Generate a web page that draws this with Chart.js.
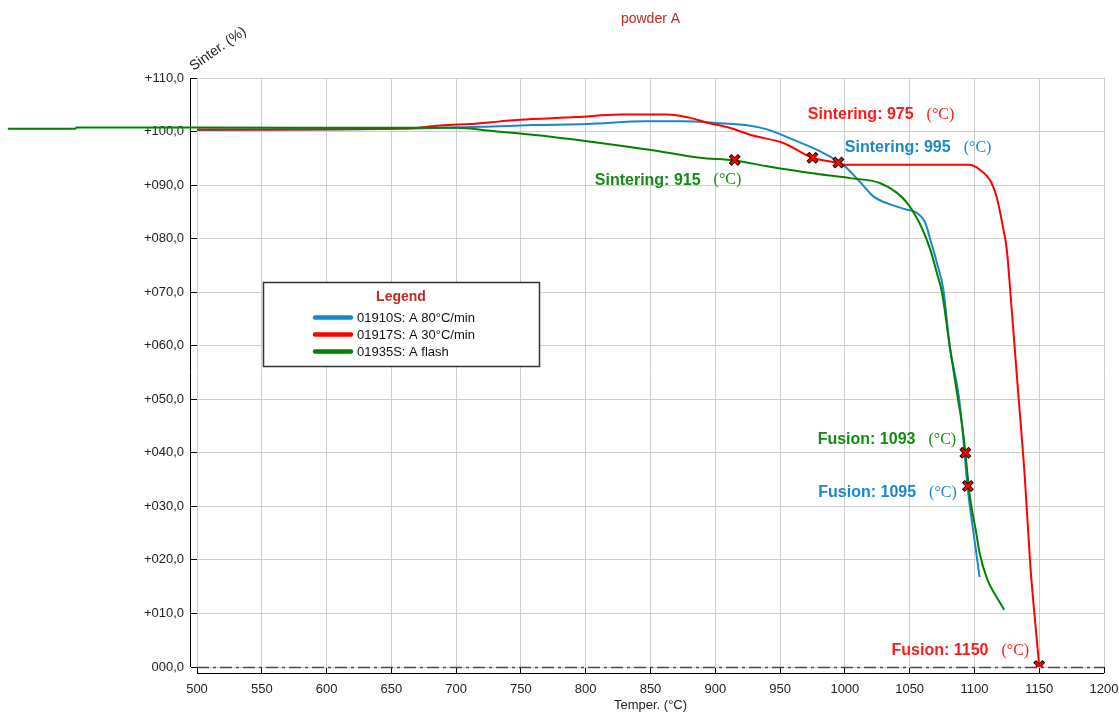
<!DOCTYPE html>
<html>
<head>
<meta charset="utf-8">
<script src="https://cdn.jsdelivr.net/npm/chart.js@4.4.1/dist/chart.umd.min.js"></script>
<style>
    html, body { margin: 0; background: #fff; }
    #wrap { width: 1119px; height: 713px; position: relative; }
</style>
</head>
<body>
<div id="wrap"><canvas id="sinterChart"></canvas></div>
<script>
// --- Data ---
const xTickLabels = ['500', '550', '600', '650', '700', '750', '800', '850', '900', '950',
    '1000', '1050', '1100', '1150', '1200'];
const yTickLabels = ['000,0', '+010,0', '+020,0', '+030,0', '+040,0', '+050,0',
    '+060,0', '+070,0', '+080,0', '+090,0', '+100,0', '+110,0'];

const seriesLabels = ['01910S: A 80°C/min', '01917S: A 30°C/min', '01935S: A flash'];
const seriesColors = ['#1a87c9', '#ff0000', '#008200'];

// 01910S (blue)
const blueT = [500, 656, 734, 759, 801, 847, 875, 901, 927, 940, 960, 981, 995, 1000, 1012,
    1022, 1035, 1048, 1055, 1062, 1066, 1071, 1076, 1081, 1088, 1091.5, 1094.6, 1099, 1104];
const blueV = [100.3, 100.5, 101.0, 101.2, 101.4, 101.9, 101.9, 101.6, 101.1, 100.4, 98.5, 96.3,
    94.4, 93.5, 90.5, 87.9, 86.4, 85.4, 84.9, 83.0, 79.8, 75.5, 70.5, 59.8, 50.5, 42.4, 33.8, 25.6, 16.8];

// 01917S (red)
const redT = [500, 556, 664, 685, 710, 734, 749, 793, 826, 863, 880, 893, 911, 929, 952, 975,
    991, 1000, 1096, 1104, 1113, 1117, 1122, 1125, 1128, 1133, 1139, 1143, 1146, 1150];
const redV = [100.4, 100.4, 100.6, 101.1, 101.4, 101.9, 102.2, 102.7, 103.2, 103.2, 102.6, 101.7,
    100.7, 99.25, 97.9, 95.1, 94.3, 93.8, 93.8, 92.9, 90.5, 87.9, 82.2, 77.9, 69.2, 53.6, 35.0,
    19.4, 10.7, 0.2];

// 01935S (green) - starts below the x axis minimum
const greenT = [354, 406, 407, 500, 656, 700, 728, 759, 801, 849, 888, 915, 940, 978, 1004, 1027,
    1040, 1048, 1055, 1060, 1066, 1071, 1075, 1081, 1087, 1091, 1093, 1096.5, 1101, 1104, 1110,
    1117, 1123];
const greenV = [100.5, 100.5, 100.75, 100.75, 100.7, 100.7, 100.1, 99.4, 98.2, 96.6, 95.1, 94.6,
    93.5, 92.1, 91.3, 90.4, 88.6, 86.7, 84.1, 81.7, 77.9, 73.6, 69.9, 59.8, 50.5, 44.3, 40.0,
    31.8, 25.6, 21.3, 16.3, 13.1, 10.7];

// sintering / fusion points
const markerT = [915, 975, 995, 1093, 1095, 1150];
const markerV = [94.7, 95.1, 94.2, 40.0, 33.8, 0.2];

const annoText = ['Sintering: 975', 'Sintering: 995', 'Sintering: 915',
    'Fusion: 1093', 'Fusion: 1095', 'Fusion: 1150'];
const annoColor = ['#ff1a1a', '#1a87c9', '#138a13', '#138a13', '#1a87c9', '#ff1a1a'];
const annoT = [971.4, 1000, 807, 979, 979.5, 1036];
const annoV = [103.2, 97.0, 90.9, 42.4, 32.6, 3.0];

const SANS = '"Liberation Sans", Arial, sans-serif';
const SERIF = '"Liberation Serif", "Times New Roman", serif';

function toPoints(xs, ys) {
    return xs.map((x, i) => ({ x: x, y: ys[i] }));
}

// --- Extra drawing: axis lines, zero line, legend, annotations, titles ---
const overlayPlugin = {
    id: 'overlay',
    beforeDatasetsDraw(chart) {
        const { ctx, chartArea: a } = chart;
        ctx.save();
        ctx.strokeStyle = '#000';
        ctx.lineWidth = 1;
        ctx.beginPath();
        ctx.moveTo(a.left - 6.5, a.top);
        ctx.lineTo(a.left - 6.5, a.bottom);
        ctx.moveTo(a.left, a.bottom + 6.5);
        ctx.lineTo(a.right, a.bottom + 6.5);
        ctx.stroke();

        const y0 = Math.round(chart.scales.y.getPixelForValue(0)) + 0.5;
        ctx.strokeStyle = '#4a4a4a';
        ctx.lineWidth = 1.5;
        ctx.setLineDash([12, 4, 3, 4]);
        ctx.beginPath();
        ctx.moveTo(a.left, y0);
        ctx.lineTo(a.right, y0);
        ctx.stroke();
        ctx.restore();
    },
    afterDatasetsDraw(chart) {
        const { ctx } = chart;
        const xs = chart.scales.x, ys = chart.scales.y;
        ctx.save();

        // legend box
        ctx.fillStyle = '#fff';
        ctx.fillRect(263, 282, 277, 85);
        ctx.strokeStyle = '#333';
        ctx.lineWidth = 1.5;
        ctx.strokeRect(263.5, 282.5, 276, 84);
        ctx.textAlign = 'center';
        ctx.textBaseline = 'middle';
        ctx.fillStyle = '#c22a1c';
        ctx.font = 'bold 14px ' + SANS;
        ctx.fillText('Legend', 401, 297);
        ctx.textAlign = 'left';
        ctx.font = '13px ' + SANS;
        ctx.lineCap = 'round';
        seriesLabels.forEach((label, i) => {
            const y = 317.5 + i * 17;
            ctx.strokeStyle = seriesColors[i];
            ctx.lineWidth = 4.5;
            ctx.beginPath();
            ctx.moveTo(315, y);
            ctx.lineTo(351, y);
            ctx.stroke();
            ctx.fillStyle = '#111';
            ctx.fillText(label, 357, y + 0.5);
        });

        // annotations
        annoText.forEach((text, i) => {
            const px = xs.getPixelForValue(annoT[i]);
            const py = ys.getPixelForValue(annoV[i]);
            ctx.fillStyle = annoColor[i];
            ctx.font = 'bold 16px ' + SANS;
            ctx.fillText(text, px, py);
            const w = ctx.measureText(text).width;
            ctx.font = '16px ' + SERIF;
            ctx.fillText('(°C)', px + w + 13, py);
        });
        ctx.restore();
    },
    afterDraw(chart) {
        const { ctx, chartArea: a } = chart;
        ctx.save();
        ctx.textAlign = 'center';
        ctx.textBaseline = 'middle';
        ctx.fillStyle = '#c22a1c';
        ctx.font = '14px ' + SANS;
        ctx.fillText('powder A', (a.left + a.right) / 2, 19);

        ctx.fillStyle = '#222';
        ctx.font = '13px ' + SANS;
        ctx.fillText('Temper. (°C)', (a.left + a.right) / 2, 705);

        ctx.translate(218, 49);
        ctx.rotate(-35 * Math.PI / 180);
        ctx.font = '14px ' + SANS;
        ctx.fillText('Sinter. (%)', 0, 0);
        ctx.restore();
    }
};

// --- Chart ---
document.addEventListener('DOMContentLoaded', () => {
    const ctx = document.getElementById('sinterChart').getContext('2d');

    const lineStyle = {
        showLine: true,
        borderWidth: 2,
        pointRadius: 0,
        pointHoverRadius: 0,
        cubicInterpolationMode: 'monotone',
        fill: false
    };

    // green is handed over in reverse order so that chart.js does not
    // cut away the part that lies left of the x minimum
    const greenPoints = toPoints(greenT, greenV).reverse();

    new Chart(ctx, {
        type: 'scatter',
        data: {
            datasets: [
                {
                    label: 'marks',
                    data: toPoints(markerT, markerV),
                    showLine: false,
                    pointStyle: 'crossRot',
                    pointRadius: 5.5,
                    pointBorderWidth: 2.5,
                    pointBorderColor: '#ff0000',
                    pointBackgroundColor: '#ff0000'
                },
                {
                    label: 'marks-outline',
                    data: toPoints(markerT, markerV),
                    showLine: false,
                    pointStyle: 'crossRot',
                    pointRadius: 6.5,
                    pointBorderWidth: 4,
                    pointBorderColor: '#000',
                    pointBackgroundColor: '#000'
                },
                Object.assign({ label: seriesLabels[2], data: greenPoints,
                    borderColor: seriesColors[2], clip: false }, lineStyle),
                Object.assign({ label: seriesLabels[1], data: toPoints(redT, redV),
                    borderColor: seriesColors[1] }, lineStyle),
                Object.assign({ label: seriesLabels[0], data: toPoints(blueT, blueV),
                    borderColor: seriesColors[0] }, lineStyle)
            ]
        },
        options: {
            responsive: true,
            maintainAspectRatio: false,
            animation: false,
            events: [],
            layout: { padding: { top: 78, right: 15, left: 0, bottom: 0 } },
            plugins: {
                legend: { display: false },
                title: { display: false },
                tooltip: { enabled: false }
            },
            scales: {
                x: {
                    type: 'linear',
                    min: 500,
                    max: 1200,
                    afterFit: (s) => {
                        s.height = 46;
                        s.paddingLeft = 0;
                        s.paddingRight = 0;
                    },
                    border: { display: false },
                    grid: { color: '#cdcdcd', lineWidth: 1, tickColor: '#000', tickLength: 6 },
                    ticks: {
                        stepSize: 50,
                        autoSkip: false,
                        maxRotation: 0,
                        padding: 9,
                        color: '#222',
                        font: { family: SANS, size: 13 },
                        callback: (v, i) => xTickLabels[i]
                    }
                },
                y: {
                    type: 'linear',
                    min: 0,
                    max: 110,
                    afterFit: (s) => { s.width = 197; },
                    border: { display: false },
                    grid: { color: '#cdcdcd', lineWidth: 1, tickColor: '#000', tickLength: 6 },
                    ticks: {
                        stepSize: 10,
                        padding: 7,
                        color: '#222',
                        font: { family: SANS, size: 13 },
                        callback: (v, i) => yTickLabels[i]
                    }
                }
            }
        },
        plugins: [overlayPlugin]
    });
});
</script>
</body>
</html>
